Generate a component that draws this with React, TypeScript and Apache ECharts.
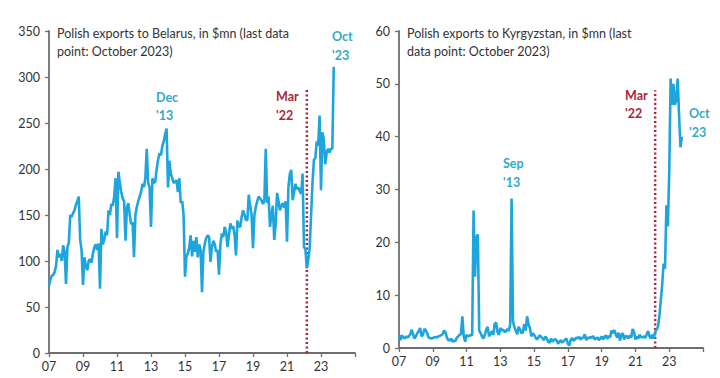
import React, { useEffect, useRef } from 'react';
import * as echarts from 'echarts';

const START_YEAR = 2007;

// Polish exports to Belarus, $mn, monthly (Jan 2007 - Oct 2023)
const by2007 = [73, 80, 84, 85, 88, 95, 112, 104, 108, 100, 117, 110];
const by2008 = [75, 115, 120, 150, 148, 152, 155, 161, 165, 170, 123, 112];
const by2009 = [74, 104, 95, 90, 100, 102, 98, 108, 115, 118, 112, 119];
const by2010 = [70, 135, 118, 123, 132, 128, 155, 150, 162, 160, 170, 190];
const by2011 = [125, 197, 185, 175, 168, 165, 122, 158, 163, 150, 140, 142];
const by2012 = [104, 150, 159, 165, 170, 175, 184, 180, 190, 222, 185, 180];
const by2013 = [137, 190, 185, 186, 200, 210, 217, 215, 225, 230, 238, 244];
const by2014 = [180, 209, 195, 190, 185, 186, 188, 175, 190, 163, 165, 150];
const by2015 = [83, 105, 108, 115, 128, 105, 122, 110, 126, 104, 118, 112];
const by2016 = [66, 110, 119, 125, 128, 126, 99, 115, 122, 118, 110, 112];
const by2017 = [85, 118, 130, 126, 137, 132, 115, 128, 141, 135, 138, 128];
const by2018 = [106, 144, 138, 137, 148, 155, 150, 145, 144, 172, 160, 150];
const by2019 = [114, 150, 159, 165, 170, 168, 166, 162, 165, 222, 163, 170];
const by2020 = [137, 150, 160, 123, 140, 174, 165, 155, 160, 163, 158, 165];
const by2021 = [121, 180, 195, 199, 166, 175, 184, 178, 180, 176, 173, 195];
const by2022 = [115, 113, 92, 101, 114, 150, 185, 210, 212, 230, 225, 258];
const by2023 = [177, 240, 232, 205, 218, 222, 218, 222, 222, 311];

// Polish exports to Kyrgyzstan, $mn, monthly (Jan 2007 - Oct 2023)
const kg2007 = [2.5, 1.5, 2.4, 2.0, 1.8, 2.2, 2.0, 2.2, 2.6, 3.5, 2.6, 1.8];
const kg2008 = [2.2, 2.8, 3.2, 3.8, 2.2, 2.5, 3.6, 3.4, 2.8, 2.0, 1.9, 1.8];
const kg2009 = [1.9, 2.0, 2.1, 2.0, 2.2, 2.3, 2.4, 2.6, 3.3, 3.0, 2.0, 1.5];
const kg2010 = [1.4, 1.8, 1.2, 1.4, 1.3, 1.9, 2.2, 2.5, 2.6, 6.0, 2.2, 1.2];
const kg2011 = [2.5, 2.2, 2.3, 2.5, 2.4, 26, 13.5, 21, 21.5, 3.3, 2.8, 2.2];
const kg2012 = [1.8, 2.5, 3.5, 4.0, 2.2, 2.6, 3.2, 2.5, 4.6, 4.8, 3.0, 2.5];
const kg2013 = [3.8, 3.3, 3.5, 3.0, 3.2, 3.6, 3.2, 4.5, 28.3, 5.0, 4.0, 3.2];
const kg2014 = [2.6, 4.0, 3.5, 2.8, 3.0, 4.5, 3.3, 6.0, 4.5, 3.8, 2.2, 2.8];
const kg2015 = [2.5, 2.0, 1.6, 2.0, 2.4, 2.1, 1.8, 1.5, 2.2, 1.8, 1.2, 1.0];
const kg2016 = [1.8, 1.2, 1.5, 1.7, 1.4, 0.8, 1.2, 1.5, 1.0, 1.3, 1.6, 1.8];
const kg2017 = [0.8, 0.5, 1.5, 1.9, 1.4, 1.6, 2.0, 1.8, 2.1, 1.6, 1.9, 2.0];
const kg2018 = [2.6, 1.5, 2.0, 1.8, 2.1, 1.9, 2.3, 1.6, 1.8, 2.0, 1.5, 1.8];
const kg2019 = [2.2, 1.6, 2.1, 2.4, 1.7, 2.3, 2.0, 3.3, 2.8, 3.4, 2.6, 2.0];
const kg2020 = [2.9, 1.4, 2.5, 2.8, 1.6, 2.3, 2.2, 1.8, 2.4, 2.0, 3.6, 3.0];
const kg2021 = [1.6, 2.2, 1.8, 2.5, 2.1, 2.0, 2.2, 1.9, 2.6, 3.2, 2.2, 1.8];
const kg2022 = [2.5, 1.8, 3.0, 3.5, 4.0, 6.0, 9.0, 12, 16, 15, 27, 23];
const kg2023 = [33, 51, 46, 50, 46, 47, 51, 44, 38, 40];

const belarusValues = [
  by2007, by2008, by2009, by2010, by2011, by2012, by2013, by2014, by2015,
  by2016, by2017, by2018, by2019, by2020, by2021, by2022, by2023,
].flat();
const kyrgyzValues = [
  kg2007, kg2008, kg2009, kg2010, kg2011, kg2012, kg2013, kg2014, kg2015,
  kg2016, kg2017, kg2018, kg2019, kg2020, kg2021, kg2022, kg2023,
].flat();

const X_MIN = 2007;
const X_MAX = 2025;
const X_INTERVAL = 2;
const WAR_MARK = 2022 + 2 / 12; // March 2022
const BY_MARK_TOP = 288;
const KG_MARK_TOP = 48.8;

const LINE_COLOR = '#1ea6dc';
const ANNO_COLOR = '#34a9c7';
const RED = '#a8283a';
const AXIS_COLOR = '#6e6e6e';
const LABEL_COLOR = '#333333';
const FONT = 'Lato, "Open Sans", sans-serif';

const toSeries = (vals: number[]) => vals.map((v, i) => [START_YEAR + i / 12, v]);

export default function App() {
  const ref = useRef<HTMLDivElement>(null);
  useEffect(() => {
    if (!ref.current) return;
    const chart = echarts.init(ref.current, undefined, { renderer: 'svg' });

    const xAxisBase = (gridIndex: number) => ({
      type: 'value',
      gridIndex,
      min: X_MIN,
      max: X_MAX,
      interval: X_INTERVAL,
      splitLine: { show: false },
      axisLine: { show: true, lineStyle: { color: AXIS_COLOR, width: 1.8 } },
      axisTick: { show: true, inside: false, length: 4, lineStyle: { color: AXIS_COLOR, width: 1.3 } },
      axisLabel: {
        color: LABEL_COLOR,
        fontSize: 12.5,
        fontFamily: FONT,
        margin: 7,
        formatter: (v: number) => (v >= X_MAX ? '' : String(v % 100).padStart(2, '0')),
      },
    });
    const yAxisBase = (gridIndex: number, max: number, interval: number) => ({
      type: 'value',
      gridIndex,
      min: 0,
      max,
      interval,
      splitLine: { show: false },
      axisLine: { show: true, lineStyle: { color: AXIS_COLOR, width: 1.8 } },
      axisTick: { show: true, inside: false, length: 4, lineStyle: { color: AXIS_COLOR, width: 1.3 } },
      axisLabel: { color: LABEL_COLOR, fontSize: 12.5, fontFamily: FONT, margin: 9 },
    });

    const text = (x: number, y: number, t: string, color: string) => ({
      type: 'text',
      x,
      y,
      style: {
        text: t,
        fill: color,
        font: `bold 12.5px ${FONT}`,
        textAlign: 'left',
        textVerticalAlign: 'middle',
      },
    });

    chart.setOption({
      animation: false,
      backgroundColor: '#ffffff',
      title: [
        {
          text: 'Polish exports to Belarus, in $mn (last data\npoint: October 2023)',
          left: 52,
          top: 19,
          textStyle: { fontSize: 12.5, fontWeight: 'normal', color: '#333', fontFamily: FONT, lineHeight: 18.5 },
        },
        {
          text: 'Polish exports to Kyrgyzstan, in $mn (last\ndata point: October 2023)',
          left: 402,
          top: 19,
          textStyle: { fontSize: 12.5, fontWeight: 'normal', color: '#333', fontFamily: FONT, lineHeight: 18.5 },
        },
      ],
      grid: [
        { left: 49, right: 365, top: 31, bottom: 25 },
        { left: 399, right: 17, top: 31, bottom: 30 },
      ],
      xAxis: [xAxisBase(0), xAxisBase(1)],
      yAxis: [yAxisBase(0, 350, 50), yAxisBase(1, 60, 10)],
      series: [
        {
          type: 'line',
          xAxisIndex: 0,
          yAxisIndex: 0,
          data: [[WAR_MARK, 0], [WAR_MARK, BY_MARK_TOP]],
          showSymbol: false,
          symbol: 'none',
          lineStyle: { color: RED, width: 2.5, type: [2, 2.5] },
          z: 1,
        },
        {
          type: 'line',
          xAxisIndex: 0,
          yAxisIndex: 0,
          data: toSeries(belarusValues),
          showSymbol: false,
          symbol: 'none',
          lineStyle: { color: LINE_COLOR, width: 2.6 },
          z: 2,
        },
        {
          type: 'line',
          xAxisIndex: 1,
          yAxisIndex: 1,
          data: [[WAR_MARK, 0], [WAR_MARK, KG_MARK_TOP]],
          showSymbol: false,
          symbol: 'none',
          lineStyle: { color: RED, width: 2.5, type: [2, 2.5] },
          z: 1,
        },
        {
          type: 'line',
          xAxisIndex: 1,
          yAxisIndex: 1,
          data: toSeries(kyrgyzValues),
          showSymbol: false,
          symbol: 'none',
          lineStyle: { color: LINE_COLOR, width: 2.6 },
          z: 2,
        },
      ],
      graphic: [
        text(156, 97, 'Dec', ANNO_COLOR),
        text(156, 115, "'13", ANNO_COLOR),
        text(276, 96, 'Mar', RED),
        text(276, 115, "'22", RED),
        text(332, 36, 'Oct', ANNO_COLOR),
        text(332, 55, "'23", ANNO_COLOR),
        text(503, 163, 'Sep', ANNO_COLOR),
        text(503, 182, "'13", ANNO_COLOR),
        text(625, 95, 'Mar', RED),
        text(625, 113, "'22", RED),
        text(689, 113, 'Oct', ANNO_COLOR),
        text(689, 132, "'23", ANNO_COLOR),
      ],
    });
    return () => chart.dispose();
  }, []);
  return (
    <div
      ref={ref}
      style={{ position: 'fixed', left: 0, top: 0, width: 720, height: 378, background: '#fff' }}
    />
  );
}
